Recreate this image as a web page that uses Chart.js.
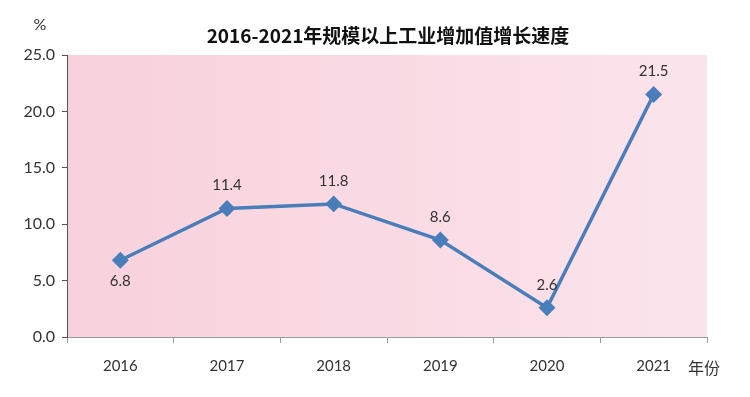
<!DOCTYPE html>
<html>
<head>
<meta charset="utf-8">
<script src="https://cdn.jsdelivr.net/npm/chart.js@4/dist/chart.umd.min.js"></script>
<style>
  html, body { margin: 0; padding: 0; background: #fff; }
  #wrap { width: 750px; height: 397px; }
</style>
</head>
<body>
<div id="wrap"><canvas id="chart" width="750" height="397"></canvas></div>
<script>
// chart data
const years = ["2016", "2017", "2018", "2019", "2020", "2021"];
const growth = [6.8, 11.4, 11.8, 8.6, 2.6, 21.5];
// label under the point for the first one, above for the rest
const labelBelow = [true, false, false, false, false, false];
const titleText = "2016-2021年规模以上工业增加值增长速度";
const yUnit = "%";
const xUnit = "年份";

const fontFamily = "Lato, 'Noto Sans CJK SC', sans-serif";

// pink gradient behind the plot area
const bgPlugin = {
  id: "bgPlugin",
  beforeDraw(chart) {
    const { ctx, chartArea } = chart;
    const g = ctx.createLinearGradient(chartArea.left, 0, chartArea.right, 0);
    g.addColorStop(0, "#f8d1dc");
    g.addColorStop(1, "#fbe4ec");
    ctx.save();
    ctx.fillStyle = g;
    ctx.fillRect(chartArea.left, chartArea.top, chartArea.right - chartArea.left, chartArea.bottom - chartArea.top);
    ctx.restore();
  },
};

// title, unit labels and value labels
const textPlugin = {
  id: "textPlugin",
  afterDatasetsDraw(chart) {
    const { ctx, chartArea } = chart;
    ctx.save();
    ctx.fillStyle = "#111";
    ctx.font = "bold 19px 'Noto Sans CJK SC', sans-serif";
    ctx.textAlign = "center";
    ctx.textBaseline = "middle";
    ctx.fillText(titleText, 388, 36);

    ctx.fillStyle = "#333";
    ctx.font = "16px " + fontFamily;
    ctx.fillText(yUnit, 40, 25);
    ctx.font = "16px 'Noto Sans CJK SC', sans-serif";
    ctx.fillText(xUnit, 704, 368);

    const meta = chart.getDatasetMeta(0);
    ctx.font = "15px " + fontFamily;
    ctx.fillStyle = "#333";
    meta.data.forEach((pt, i) => {
      const dy = labelBelow[i] ? 21 : -23;
      ctx.fillText(growth[i].toFixed(1), pt.x, pt.y + dy);
    });
    ctx.restore();
  },
};

new Chart(document.getElementById("chart"), {
  type: "line",
  data: {
    labels: years,
    datasets: [
      {
        data: growth,
        borderColor: "#4a7ebb",
        backgroundColor: "#4a7ebb",
        borderWidth: 3.5,
        pointStyle: "rectRot",
        pointRadius: 6,
        pointHoverRadius: 6,
        tension: 0,
      },
    ],
  },
  options: {
    responsive: false,
    animation: false,
    events: [],
    layout: { padding: { top: 55, right: 43, left: 0, bottom: 0 } },
    plugins: {
      legend: { display: false },
      tooltip: { enabled: false },
    },
    scales: {
      x: {
        offset: true,
        grid: { drawOnChartArea: false, offset: true, tickLength: 6, color: "#9a9a9a" },
        border: { color: "#9a9a9a", width: 1 },
        ticks: { color: "#333", padding: 14, font: { family: fontFamily, size: 15 } },
        afterFit(scale) { scale.height = 60; },
      },
      y: {
        min: 0,
        max: 25,
        grid: { drawOnChartArea: false, tickLength: 5, color: "#555" },
        border: { color: "#555", width: 1 },
        ticks: {
          stepSize: 5,
          color: "#333",
          padding: 7,
          font: { family: fontFamily, size: 16 },
          callback: (v) => v.toFixed(1),
        },
        afterFit(scale) { scale.width = 67; },
      },
    },
  },
  plugins: [bgPlugin, textPlugin],
});
</script>
</body>
</html>
